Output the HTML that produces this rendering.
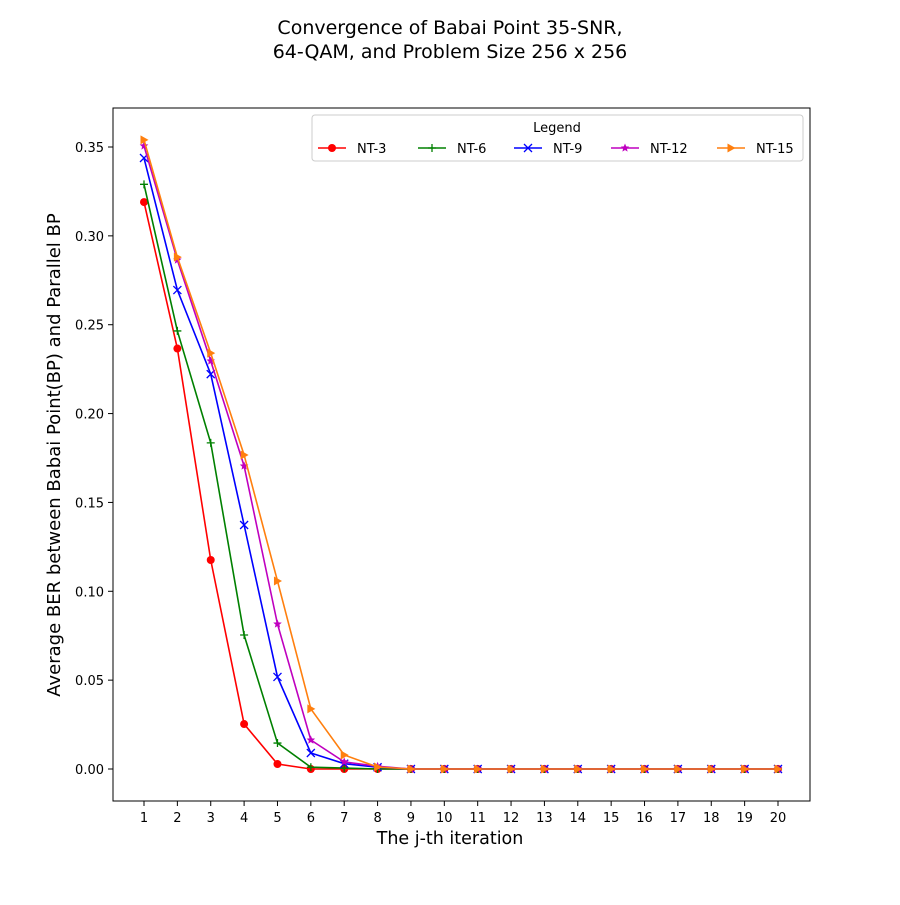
<!DOCTYPE html>
<html><head><meta charset="utf-8"><style>
body{margin:0;background:#fff;}
svg text{font-family:"DejaVu Sans","Liberation Sans",sans-serif;}
</style></head><body>
<svg id="chart" width="900" height="900" xmlns="http://www.w3.org/2000/svg">
<rect width="900" height="900" fill="#fff"/>
<text x="450" y="34" font-size="19" text-anchor="middle">Convergence of Babai Point 35-SNR,</text>
<text x="450" y="58" font-size="19" text-anchor="middle">64-QAM, and Problem Size 256 x 256</text>
<g id="grid"></g>
<g id="series"></g>
<rect x="113" y="108" width="697" height="693" fill="none" stroke="#000" stroke-width="1"/>
<text x="450" y="844" font-size="17.5" text-anchor="middle">The j-th iteration</text>
<text transform="translate(60,455) rotate(-90)" font-size="18" text-anchor="middle">Average BER between Babai Point(BP) and Parallel BP</text>
<g id="legend">
<rect x="312" y="115" width="491" height="46" rx="3" fill="#fff" fill-opacity="0.8" stroke="#ccc"/>
<text x="557" y="132" font-size="13" text-anchor="middle">Legend</text>
</g>
</svg>
<script>
const iterations=[1,2,3,4,5,6,7,8,9,10,11,12,13,14,15,16,17,18,19,20];
const nt3=[0.319,0.2366,0.1176,0.0253,0.0028,0,0,0,0,0,0,0,0,0,0,0,0,0,0,0];
const nt6=[0.329,0.2465,0.1835,0.0754,0.0146,0.001,0.0005,0,0,0,0,0,0,0,0,0,0,0,0,0];
const nt9=[0.3438,0.2695,0.2222,0.1373,0.0518,0.009,0.003,0.001,0,0,0,0,0,0,0,0,0,0,0,0];
const nt12=[0.3506,0.2864,0.2296,0.1705,0.0816,0.0163,0.004,0.0015,0,0,0,0,0,0,0,0,0,0,0,0];
const nt15=[0.354,0.288,0.234,0.1767,0.1058,0.0338,0.0079,0.0011,0,0,0,0,0,0,0,0,0,0,0,0];
const yTicks=[0,0.05,0.1,0.15,0.2,0.25,0.3,0.35];
const seriesNames=["NT-3","NT-6","NT-9","NT-12","NT-15"];
const NS="http://www.w3.org/2000/svg";
const xs=i=>144+(i-1)*(778-144)/19;
const ys=v=>769-v*(769-147)/0.35;
const svg=document.getElementById('chart');
const grid=document.getElementById('grid');
function mk(tag,attrs,parent){const e=document.createElementNS(NS,tag);for(const k in attrs)e.setAttribute(k,attrs[k]);parent.appendChild(e);return e;}
iterations.forEach(i=>{
  const t=mk('line',{x1:xs(i),x2:xs(i),y1:801,y2:806,stroke:'#000'},grid);
  
  
  const l=mk('text',{x:xs(i),y:822,'font-size':13,'text-anchor':'middle'},grid);
  
  
  l.textContent=i;
});
yTicks.forEach(v=>{
  const t=mk('line',{x1:108,x2:113,y1:ys(v),y2:ys(v),stroke:'#000'},grid);
  
  
  const l=mk('text',{x:104,y:ys(v)+5,'font-size':13,'text-anchor':'end'},grid);
  
  
  l.textContent=v.toFixed(2);
});
const data=[nt3,nt6,nt9,nt12,nt15];
const colors=['#ff0000','#008000','#0000ff','#bf00bf','#ff7f0e'];
const markers=['o','+','x','*','>'];
function marker(g,type,x,y,c){
  if(type==='o')mk('circle',{cx:x,cy:y,r:4,fill:c},g);
  else if(type==='+'){mk('path',{d:`M${x-4},${y}H${x+4}M${x},${y-4}V${y+4}`,stroke:c,'stroke-width':1.3},g);}
  else if(type==='x'){mk('path',{d:`M${x-4},${y-4}L${x+4},${y+4}M${x-4},${y+4}L${x+4},${y-4}`,stroke:c,'stroke-width':1.3},g);}
  else if(type==='*'){let p=[];for(let k=0;k<10;k++){const r=k%2?2:4.5,a=-Math.PI/2+k*Math.PI/5;p.push((x+r*Math.cos(a)).toFixed(1)+','+(y+r*Math.sin(a)).toFixed(1));}mk('polygon',{points:p.join(' '),fill:c},g);}
  else if(type==='>'){mk('polygon',{points:`${x+4.5},${y} ${x-3.5},${y-4.5} ${x-3.5},${y+4.5}`,fill:c},g);}
}
const sg=document.getElementById('series');
data.forEach((arr,si)=>{
  const g=mk('g',{},sg);
  
  
  mk('polyline',{points:arr.map((v,i)=>xs(iterations[i])+','+ys(v)).join(' '),fill:'none',stroke:colors[si],'stroke-width':1.6},g);
  arr.forEach((v,i)=>marker(g,markers[si],xs(iterations[i]),ys(v),colors[si]));
});
const lg=document.getElementById('legend');
const lx=[318,418,514,611,717];
seriesNames.forEach((n,si)=>{
  const g=mk('g',{},lg);
  
  
  mk('line',{x1:lx[si],x2:lx[si]+28,y1:148,y2:148,stroke:colors[si],'stroke-width':1.6},g);
  marker(g,markers[si],lx[si]+14,148,colors[si]);
  const t=mk('text',{x:lx[si]+39,y:153,'font-size':13},g);
  t.textContent=n;
});
</script>
</body></html>
